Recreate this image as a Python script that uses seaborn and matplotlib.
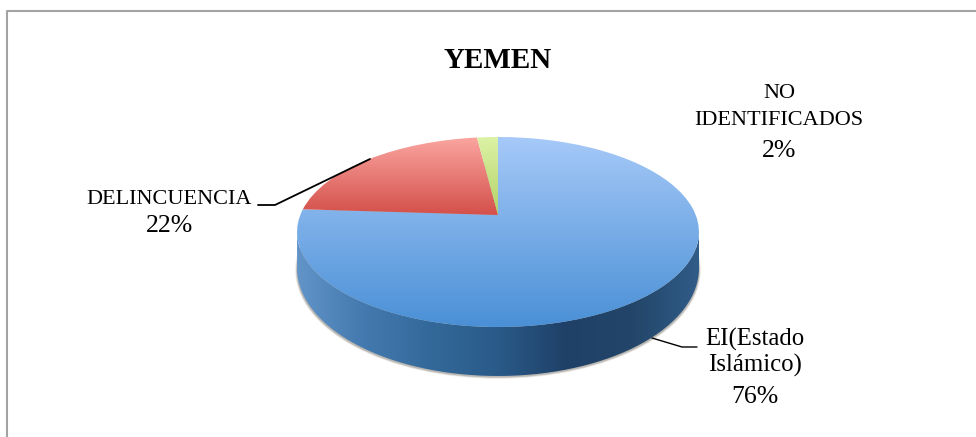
import numpy as np
import seaborn as sns
import matplotlib.pyplot as plt
from matplotlib.patches import PathPatch, Ellipse
from matplotlib.path import Path

title = "YEMEN"
categories = ["EI(Estado\nIslámico)", "DELINCUENCIA", "NO\nIDENTIFICADOS"]
values = [76, 22, 2]

sns.set_style("white")
plt.rcParams['font.family'] = ['Liberation Serif', 'DejaVu Serif']
plt.rcParams['text.color'] = 'black'

fig = plt.figure(figsize=(9.76, 4.37), dpi=100)
ax = fig.add_axes([0, 0, 1, 1])

wedges, _ = ax.pie(values, startangle=90, counterclock=False)

# perspective of the pie top, apex sits above the ellipse centre
cx, cy = 498, 215
a, b, k = 91.96, 197.7, 0.179


def project(path):
    x, y = path.vertices[:, 0], path.vertices[:, 1]
    w = 1 + k * y
    return Path(np.column_stack([cx + b * x / w, cy - a * y / w]), path.codes)


def shaded(patch, cmap, extent, horizontal=False):
    ax.add_patch(patch)
    grad = np.linspace(0, 1, 256)
    grad = grad.reshape(1, -1) if horizontal else grad.reshape(-1, 1)
    im = ax.imshow(grad, cmap=cmap, extent=extent, aspect='auto', origin='upper', zorder=patch.get_zorder())
    im.set_clip_path(patch)


# soft shadow under the pie
for grow, alpha in [(4, 0.06), (3, 0.10), (2, 0.16), (1, 0.25)]:
    ax.add_patch(Ellipse((498, 270), 402 + grow, 214 + grow, color='#6f6a60', alpha=alpha, lw=0, zorder=1))

# side of the pie
t = np.linspace(0, np.pi, 200)
top_edge = np.column_stack([498 + 201 * np.cos(t), 232 + 95 * np.sin(t)])
low_edge = np.column_stack([498 + 201 * np.cos(t[::-1]), 268 + 108 * np.sin(t[::-1])])
side = PathPatch(Path(np.vstack([top_edge, low_edge])), fc='none', lw=0, zorder=2)
side_cmap = sns.blend_palette(["#6294c8", "#4379ae", "#33699a", "#2a5a88", "#1f4169", "#234568", "#305c88"], as_cmap=True)
shaded(side, side_cmap, [297, 699, 380, 230], horizontal=True)

# top of the pie
top_colors = [("#a6c9f8", "#4a90d6", 137, 327), ("#fba5a0", "#d4504a", 137, 215), ("#dcf2a6", "#b3d266", 137, 215)]
for wedge, (c1, c2, y1, y2) in zip(wedges, top_colors):
    wedge.set_visible(False)
    patch = PathPatch(project(wedge.get_path()), fc='none', lw=0, zorder=3)
    shaded(patch, sns.blend_palette([c1, c2], as_cmap=True), [290, 705, y2, y1])

# leader lines
ax.plot([370, 275, 258], [159, 205, 205], color='black', lw=1.3, zorder=4)
ax.plot([652, 682, 697], [338, 347, 347], color='black', lw=1.0, zorder=4)

# chart frame
ax.plot([6.5, 6.5, 976], [437, 11, 11], color='#a3a3a3', lw=1.5, zorder=4)

ax.text(498, 61, title, fontsize=21, fontweight='bold', ha='center', va='center')

# baselines per label line, the percent line has a wider gap in the original
label_x = [755, 169.5, 779]
label_y = [[346, 372, 403], [204, 232], [98, 125, 157]]
name_size = [17.8, 16, 16]
for cat, val, lx, ys, fs in zip(categories, values, label_x, label_y, name_size):
    for line, ly in zip(cat.split("\n"), ys):
        ax.text(lx, ly, line, fontsize=fs, ha='center', va='baseline')
    ax.text(lx, ys[-1], f"{val}%", fontsize=18.5, ha='center', va='baseline')

ax.set_xlim(0, 976)
ax.set_ylim(437, 0)
ax.set_aspect('auto')
ax.axis('off')
fig.savefig("out.png", dpi=100)
